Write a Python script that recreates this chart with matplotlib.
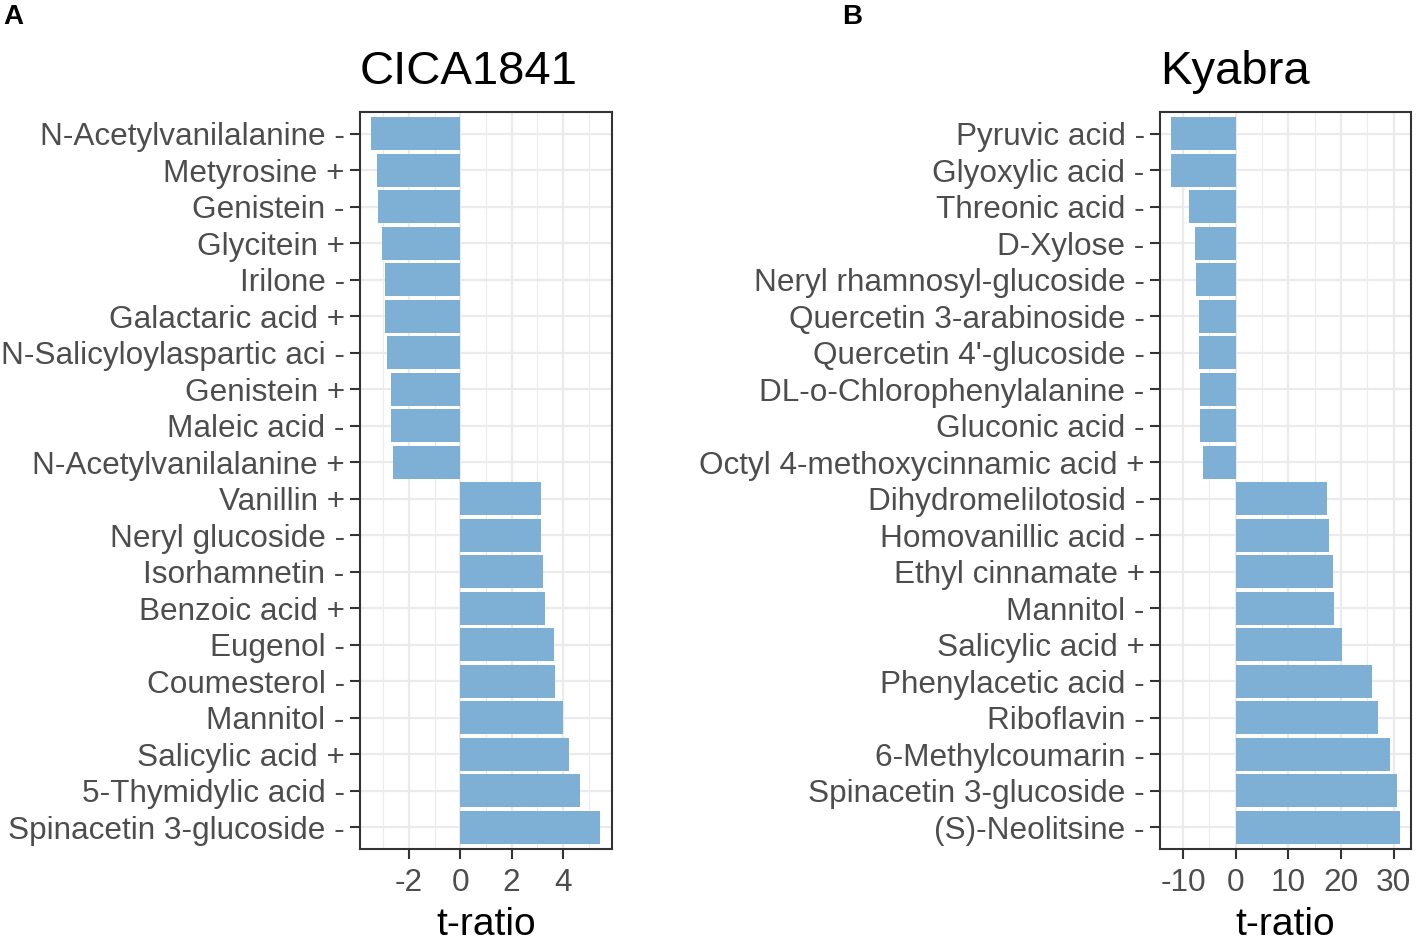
import numpy as np
import matplotlib
matplotlib.use('Agg')
import matplotlib.pyplot as plt
from matplotlib.ticker import MultipleLocator

plt.rcParams['font.family'] = ['Liberation Sans', 'DejaVu Sans']

# Panel A data (top to bottom)
cica_labels = ['N-Acetylvanilalanine -', 'Metyrosine +', 'Genistein -', 'Glycitein +',
               'Irilone -', 'Galactaric acid +', 'N-Salicyloylaspartic aci -', 'Genistein +',
               'Maleic acid -', 'N-Acetylvanilalanine +', 'Vanillin +', 'Neryl glucoside -',
               'Isorhamnetin -', 'Benzoic acid +', 'Eugenol -', 'Coumesterol -', 'Mannitol -',
               'Salicylic acid +', '5-Thymidylic acid -', 'Spinacetin 3-glucoside -']
cica_values = [-3.46, -3.26, -3.22, -3.04, -2.95, -2.95, -2.86, -2.68, -2.68, -2.61,
               3.15, 3.15, 3.22, 3.28, 3.66, 3.70, 4.00, 4.23, 4.65, 5.45]

# Panel B data (top to bottom)
kyabra_labels = ['Pyruvic acid -', 'Glyoxylic acid -', 'Threonic acid -', 'D-Xylose -',
                 'Neryl rhamnosyl-glucoside -', 'Quercetin 3-arabinoside -',
                 "Quercetin 4'-glucoside -", 'DL-o-Chlorophenylalanine -', 'Gluconic acid -',
                 'Octyl 4-methoxycinnamic acid +', 'Dihydromelilotosid -', 'Homovanillic acid -',
                 'Ethyl cinnamate +', 'Mannitol -', 'Salicylic acid +', 'Phenylacetic acid -',
                 'Riboflavin -', '6-Methylcoumarin -', 'Spinacetin 3-glucoside -', '(S)-Neolitsine -']
kyabra_values = [-12.2, -12.2, -8.8, -7.8, -7.5, -7.0, -7.0, -6.8, -6.7, -6.3,
                 17.4, 17.7, 18.5, 18.7, 20.2, 25.8, 27.0, 29.2, 30.7, 31.1]

bar_color = '#7EB0D5'
grid_color = '#EBEBEB'
dark = '#333333'
tick_color = '#4D4D4D'

W, H = 1417, 942
fig = plt.figure(figsize=(W / 100, H / 100), dpi=100)


def panel(rect, labels, values, title, major, minor):
    ax = fig.add_axes(rect)
    y = np.arange(len(labels))
    ax.barh(y, values, height=0.9, color=bar_color, zorder=3)
    lo, hi = min(values), max(values)
    span = hi - lo
    ax.set_xlim(lo - 0.05 * span, hi + 0.05 * span)
    ax.set_ylim(len(labels) - 0.4, -0.6)
    ax.set_yticks(y)
    ax.set_yticklabels(labels)
    ax.xaxis.set_major_locator(MultipleLocator(major))
    ax.xaxis.set_minor_locator(MultipleLocator(minor))
    ticks = [t for t in ax.get_xticks() if ax.get_xlim()[0] <= t <= ax.get_xlim()[1]]
    ax.set_xticks(ticks)
    ax.set_xticklabels(['%g' % t for t in ticks])
    ax.grid(True, which='major', color=grid_color, lw=1.6, zorder=0)
    ax.grid(True, which='minor', axis='x', color=grid_color, lw=0.8, zorder=0)
    ax.set_axisbelow(True)
    for s in ax.spines.values():
        s.set_color(dark)
        s.set_linewidth(1.5)
    ax.tick_params(which='major', length=7, width=1.5, color=dark, labelsize=22.7,
                   labelcolor=tick_color, pad=4)
    ax.tick_params(axis='x', which='major', pad=7)
    ax.tick_params(which='minor', length=0)
    ax.set_xlabel('t-ratio', fontsize=28, color='black', labelpad=6)
    ax.set_title(title, loc='left', fontsize=34, color='black', pad=20)
    return ax


panel([360 / W, 1 - 849 / H, 251.7 / W, 737.3 / H], cica_labels, cica_values, 'CICA1841', 2, 1)
panel([1160 / W, 1 - 849 / H, 251 / W, 737.3 / H], kyabra_labels, kyabra_values, 'Kyabra', 10, 5)

fig.text(3 / W, 1 - 4 / H, 'A', fontsize=20, fontweight='bold', va='top', ha='left')
fig.text(842 / W, 1 - 4 / H, 'B', fontsize=20, fontweight='bold', va='top', ha='left')

fig.savefig('out.png', dpi=100)
